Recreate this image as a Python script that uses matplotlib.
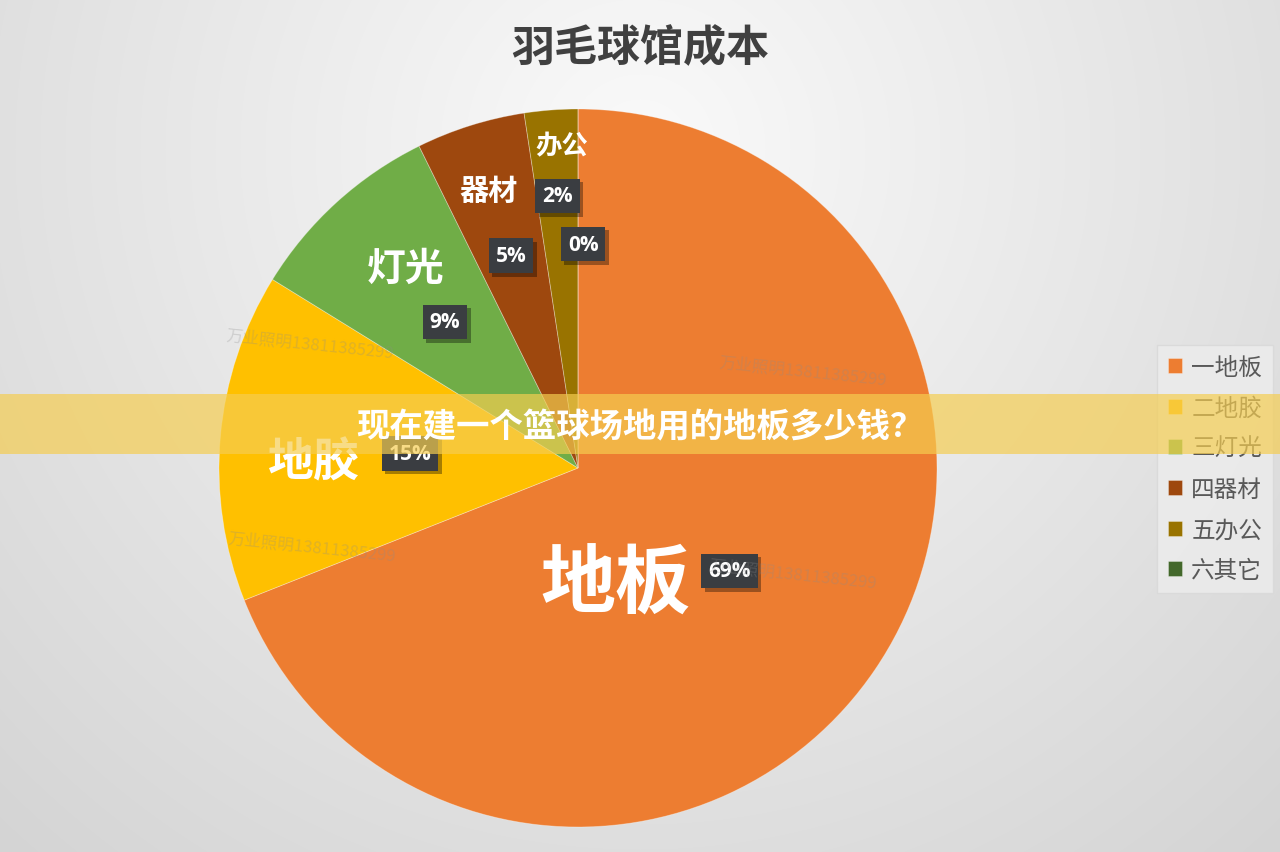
import numpy as np
import matplotlib
matplotlib.use("Agg")
import matplotlib.pyplot as plt
from matplotlib.patches import Rectangle
import matplotlib.patheffects as pe

plt.rcParams['font.family'] = ['Noto Sans CJK SC', 'DejaVu Sans']

# ---------------- data ----------------
title = "羽毛球馆成本"
banner_text = "现在建一个篮球场地用的地板多少钱？"
categories = ["地板", "地胶", "灯光", "器材", "办公", "其它"]
legend_labels = ["一地板", "二地胶", "三灯光", "四器材", "五办公", "六其它"]
values = [69.0, 14.8, 8.9, 4.9, 2.4, 0.0]
pct_labels = ["69%", "15%", "9%", "5%", "2%", "0%"]
colors = ["#ED7D31", "#FFC000", "#70AD47", "#9E480E", "#997300", "#43682B"]
watermark = "万业照明13811385299"

# ---------------- figure ----------------
W, H = 1280, 853
fig = plt.figure(figsize=(W / 100, H / 100), dpi=100)

# background radial gradient
bg = fig.add_axes([0, 0, 1, 1], zorder=-5)
yy, xx = np.mgrid[0:H, 0:W]
d = np.sqrt((xx - 640) ** 2 + (yy - 150) ** 2)
g = np.clip(250 - 0.04 * d, 200, 250) / 255.0
bg.imshow(np.dstack([g, g, g]), extent=[0, W, H, 0], aspect='auto')
bg.set_xlim(0, W)
bg.set_ylim(H, 0)
bg.axis('off')

# pie axes: center (578, 469), radius 359 px
cx, cy, r = 578, 469, 359
ax = fig.add_axes([(cx - r) / W, (H - cy - r) / H, 2 * r / W, 2 * r / H], zorder=1)
ax.patch.set_alpha(0)
wedges, _ = ax.pie(values, colors=colors, startangle=90, counterclock=False,
                   radius=1, wedgeprops=dict(linewidth=0.6, edgecolor=(1, 1, 1, 0.35)))
ax.set_xlim(-1, 1)
ax.set_ylim(-1, 1)
ax.set_aspect('equal')
ax.axis('off')

# mid angles from wedges
mids = [np.deg2rad((w.theta1 + w.theta2) / 2) for w in wedges]

# percentage labels (dark boxes with shadow)
pct_r = [0.51, 0.47, 0.55, 0.62, 0.76, 0.624]
pct_dang = [0, 0, 0, 0, 0, -1.3]
for m, rr, da, lab in zip(mids, pct_r, pct_dang, pct_labels):
    a = m + np.deg2rad(da)
    x, y = rr * np.cos(a), rr * np.sin(a)
    t = ax.text(x, y, lab, ha='center', va='center', fontsize=15, fontweight='bold',
                family=['Open Sans', 'DejaVu Sans'], color='white',
                bbox=dict(boxstyle='square,pad=0.33', fc='#3A3D41', ec='none'), zorder=5)
    t.get_bbox_patch().set_path_effects(
        [pe.SimplePatchShadow(offset=(2.5, -2.5), shadow_rgbFace='black', alpha=0.35),
         pe.Normal()])

# category name labels
name_r = [0.34, 0.74, 0.735, 0.815, 0.898]
name_dang = [-37.9, 3.9, -1.5, 0.4, -1.5]
name_fs = [54, 33, 28, 21, 19]
for m, rr, da, fs, lab in zip(mids, name_r, name_dang, name_fs, categories):
    a = m + np.deg2rad(da)
    ax.text(rr * np.cos(a), rr * np.sin(a), lab, ha='center', va='center',
            fontsize=fs, fontweight='bold', color='white', zorder=5)

# watermarks
for (px, py) in [(803, 372), (310, 345), (312, 548), (793, 575)]:
    fig.text(px / W, 1 - py / H, watermark, ha='center', va='center', fontsize=12,
             rotation=-6, color=(0.55, 0.55, 0.55, 0.28), zorder=3)

# title
fig.text(640 / W, 1 - 48 / H, title, ha='center', va='center', fontsize=31,
         fontweight='bold', color='#404040')

# legend
leg = fig.legend(handles=wedges, labels=legend_labels, loc='upper left',
                 bbox_to_anchor=(1157 / W, 1 - 346 / H), frameon=True, fancybox=False,
                 prop={'family': ['Noto Sans CJK SC'], 'size': 17},
                 handlelength=0.6, handleheight=0.6, handletextpad=0.4,
                 labelspacing=0.75, borderpad=0.45, borderaxespad=0)
leg.get_frame().set_facecolor('#EDEDED')
leg.get_frame().set_edgecolor('#D8D8D8')
leg.get_frame().set_linewidth(1)
for t in leg.get_texts():
    t.set_color('#595959')

# banner band
fig.patches.append(Rectangle((0, 1 - 455 / H), 1, 60 / H, transform=fig.transFigure,
                             facecolor=(245 / 255, 205 / 255, 80 / 255, 0.69),
                             edgecolor='none', zorder=10))
fig.text(640 / W, 1 - 428 / H, banner_text, ha='center', va='center', fontsize=24,
         fontweight='bold', color='white', zorder=11)

fig.savefig("out.png", dpi=100)
